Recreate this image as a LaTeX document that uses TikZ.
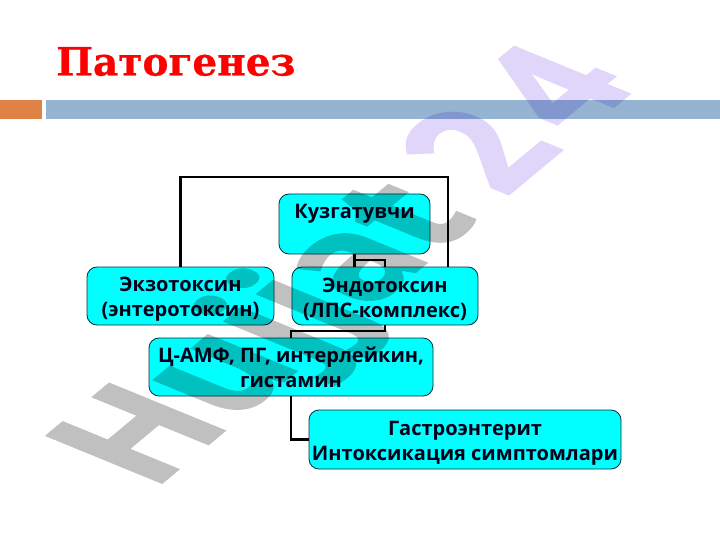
\documentclass[tikz,border=0pt]{standalone}
\usepackage{fontspec}
\setmainfont{Open Sans}
\newfontfamily\titlefont[FakeBold=0.6]{DejaVu Serif}
\newfontfamily\wmfont[FakeBold=1.5]{Open Sans}
\definecolor{boxcyan}{RGB}{0,255,255}
\definecolor{boxedge}{RGB}{0,50,60}
\definecolor{barblue}{RGB}{148,180,210}
\definecolor{barorange}{RGB}{224,130,70}
\definecolor{wmgray}{RGB}{192,192,192}
\definecolor{wmviolet}{RGB}{224,214,250}
\tikzset{
  pbox/.style={draw=boxedge,line width=0.8pt,fill=boxcyan,rounded corners=10pt,align=center,inner sep=0pt,
    font=\fontsize{20}{25}\selectfont\bfseries,text=black!90!blue},
  link/.style={draw=black,line width=2.2pt,line join=miter}
}
\begin{document}
\begin{tikzpicture}[x=1pt,y=-1pt]
\useasboundingbox (0,0) rectangle (720,540);
\fill[white] (0,0) rectangle (720,540);
\fill[barorange] (0,100) rectangle (42,119);
\fill[barblue] (46,100) rectangle (720,119);
\node[anchor=base west,inner sep=0pt,text=red,font=\titlefont\fontsize{39}{39}\selectfont\bfseries] (title) at (56,75.5) {Патогенез};

\node[pbox,minimum width=151pt,minimum height=60pt] (kuz) at (354.5,224) {Кузгатувчи\\\phantom{К}};
\node[pbox,minimum width=187pt,minimum height=58pt] (ekzo) at (180.5,296) {\rule{0pt}{21pt}Экзотоксин\\(энтеротоксин)};
\node[pbox,minimum width=186pt,minimum height=58pt] (endo) at (385,296) {\rule{0pt}{21pt}Эндотоксин\\(ЛПС-комплекс)};
\node[pbox,minimum width=284pt,minimum height=58pt] (camp) at (291,367) {Ц-АМФ, ПГ, интерлейкин,\\гистамин};
\node[pbox,minimum width=312pt,minimum height=59pt] (gastro) at (465,439.5) {\rule{0pt}{22pt}Гастроэнтерит\\Интоксикация симптомлари};

\coordinate (loopR) at ([xshift=63pt]endo.north);
\coordinate (loopTop) at (448,177);
\coordinate (kuzMid) at (354.5,260);
\coordinate (endoLow) at (385,331);
\draw[link] (ekzo.north) |- (loopTop) -- (loopR);
\draw[link] (kuz.south) -- (kuz.south |- endo.north);
\draw[link] (kuzMid) -| (endo.north);
\draw[link] (endo.south) |- (endoLow -| camp.north) -- (camp.north);
\draw[link] (camp.south) |- (gastro.west);

\begin{scope}[blend mode=multiply]
\begin{scope}[transparency group]
\begin{scope}[cm={1.07,0.89,-1.61,0.66,(152,491)}]
\node[transform shape,anchor=base west,inner sep=0pt,font=\wmfont\fontsize{100}{100}\selectfont\bfseries] (wm) at (0,0) {\textcolor{wmgray}{Hujjat}\kern22pt\textcolor{wmviolet}{2\kern13pt 4}};
\end{scope}
\end{scope}
\end{scope}
\end{tikzpicture}
\end{document}
